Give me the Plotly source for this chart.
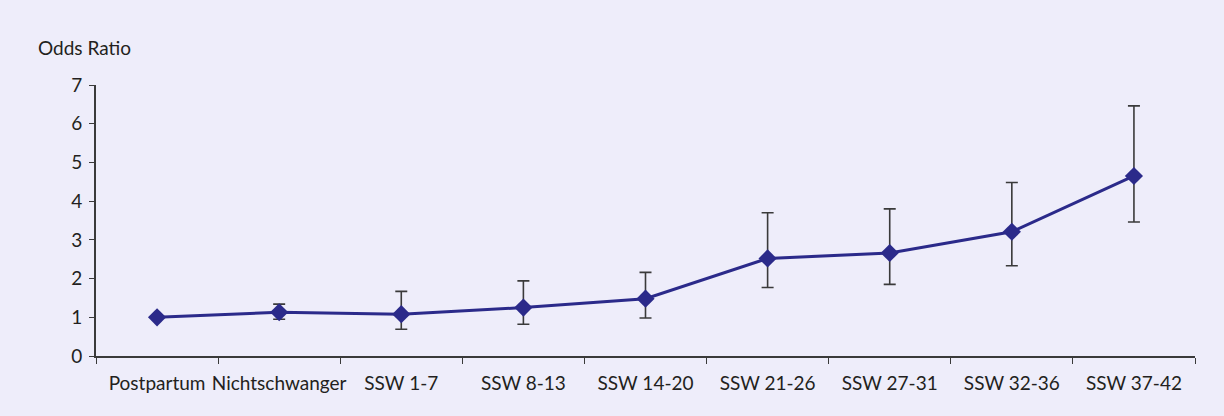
import plotly.graph_objects as go

categories = ["Postpartum", "Nichtschwanger", "SSW 1-7", "SSW 8-13", "SSW 14-20",
              "SSW 21-26", "SSW 27-31", "SSW 32-36", "SSW 37-42"]
odds_ratio = [1.0, 1.13, 1.08, 1.25, 1.48, 2.52, 2.66, 3.21, 4.65]
ci_upper = [1.0, 1.34, 1.67, 1.94, 2.16, 3.70, 3.80, 4.48, 6.46]
ci_lower = [1.0, 0.95, 0.69, 0.82, 0.98, 1.77, 1.85, 2.33, 3.46]
y_ticks = [0, 1, 2, 3, 4, 5, 6, 7]

err_plus = [u - v for u, v in zip(ci_upper, odds_ratio)]
err_minus = [v - l for v, l in zip(odds_ratio, ci_lower)]
# Postpartum is the reference group: no error bar
show_plus = [e if e > 0 else None for e in err_plus]
show_minus = [e if e > 0 else None for e in err_minus]

bg = "#EEEDFA"
text_col = "#231F20"
axis_col = "#3A3A3A"
line_col = "#2B2A8A"
font_fam = "Lato, Open Sans, sans-serif"

fig = go.Figure()
fig.add_trace(go.Scatter(
    x=categories, y=odds_ratio,
    mode="lines+markers",
    line=dict(color=line_col, width=3),
    marker=dict(symbol="diamond", size=14, color=line_col),
    error_y=dict(type="data", symmetric=False, array=show_plus, arrayminus=show_minus,
                 color=axis_col, thickness=1.6, width=6),
    showlegend=False,
    cliponaxis=False,
))

fig.update_layout(
    width=1224, height=416,
    margin=dict(l=96, r=29, t=85, b=60),
    paper_bgcolor=bg, plot_bgcolor=bg,
    font=dict(family=font_fam, size=19, color=text_col),
    xaxis=dict(
        type="category",
        range=[-0.5, 8.5],
        automargin=False,
        tickangle=0,
        showline=True, linecolor=axis_col, linewidth=1.6,
        ticks="outside", tickson="boundaries", ticklen=6, tickwidth=1.3, tickcolor=axis_col,
        ticklabelstandoff=9,
        showgrid=False, zeroline=False,
        tickfont=dict(family=font_fam, size=19, color=text_col),
    ),
    yaxis=dict(
        range=[0, 7],
        automargin=False,
        tickvals=y_ticks,
        showline=True, linecolor=axis_col, linewidth=1.6,
        ticks="outside", ticklen=5, tickwidth=1.3, tickcolor=axis_col,
        ticklabelstandoff=3,
        showgrid=False, zeroline=False,
        tickfont=dict(family=font_fam, size=19, color=text_col),
    ),
    annotations=[dict(
        text="Odds Ratio", xref="paper", yref="paper",
        x=-60 / 1099, y=1 + 38 / 271, xanchor="left", yanchor="middle",
        showarrow=False, font=dict(family=font_fam, size=19, color=text_col),
    )],
)

fig.write_html(
    "out.html",
    config={"displayModeBar": False},
    post_script=(
        "document.body.style.margin='0';"
        "document.body.style.background='" + bg + "';"
    ),
)
